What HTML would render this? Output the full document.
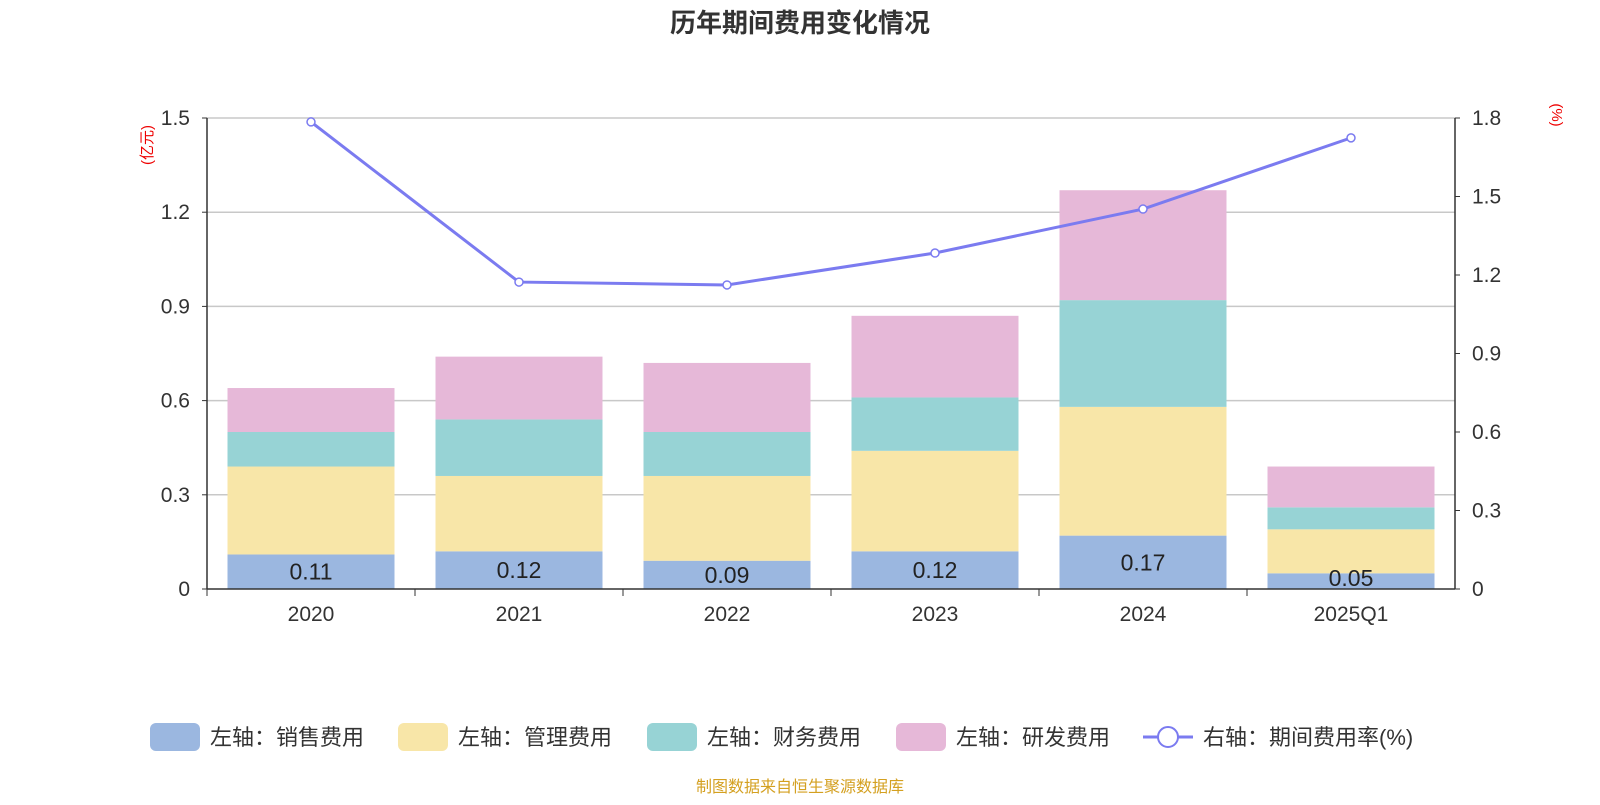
<!DOCTYPE html>
<html><head><meta charset="utf-8"><style>
body{margin:0;background:#fff;font-family:"Liberation Sans","Noto Sans CJK SC",sans-serif;}
svg text{font-family:"Liberation Sans","Noto Sans CJK SC",sans-serif;}
</style></head><body>
<svg id="chart" width="1600" height="800" xmlns="http://www.w3.org/2000/svg">
<text x="800" y="32" text-anchor="middle" font-size="26" font-weight="bold" fill="#333">历年期间费用变化情况</text>
<text transform="translate(152,145) rotate(-90)" text-anchor="middle" font-size="15" fill="#e00">(亿元)</text>
<text transform="translate(1552,115) rotate(90)" text-anchor="middle" font-size="15" fill="#e00">(%)</text>
<g id="grid"></g><g id="bars"></g><g id="axes"></g><g id="line"></g>
<g font-size="22" fill="#333">
<rect x="150" y="723" width="50" height="28" rx="6" fill="#9bb7e0"/><text x="210" y="745">左轴：销售费用</text>
<rect x="398" y="723" width="50" height="28" rx="6" fill="#f8e6a8"/><text x="458" y="745">左轴：管理费用</text>
<rect x="647" y="723" width="50" height="28" rx="6" fill="#97d3d5"/><text x="707" y="745">左轴：财务费用</text>
<rect x="896" y="723" width="50" height="28" rx="6" fill="#e6b8d8"/><text x="956" y="745">左轴：研发费用</text>
<g><line x1="1143" y1="737" x2="1193" y2="737" stroke="#7b7bf0" stroke-width="3"/><circle cx="1168" cy="737" r="10" fill="#fff" stroke="#7b7bf0" stroke-width="2"/><text x="1203" y="745">右轴：期间费用率(%)</text></g>
</g>
<text x="800" y="792" text-anchor="middle" font-size="16" fill="#d4a020">制图数据来自恒生聚源数据库</text>
</svg>
<script>
const categories=["2020","2021","2022","2023","2024","2025Q1"];
const sales=[0.11,0.12,0.09,0.12,0.17,0.05];
const admin=[0.28,0.24,0.27,0.32,0.41,0.14];
const finance=[0.11,0.18,0.14,0.17,0.34,0.07];
const rd=[0.14,0.20,0.22,0.26,0.35,0.13];
const rate=[1.785,1.173,1.162,1.284,1.452,1.724];
const leftTicks=[0,0.3,0.6,0.9,1.2,1.5];
const rightTicks=[0,0.3,0.6,0.9,1.2,1.5,1.8];
const NS="http://www.w3.org/2000/svg";
const x0=207,x1=1455,yB=589,yT=118;
const band=(x1-x0)/categories.length;
const yL=v=>yB-(v/1.5)*(yB-yT);
const yR=v=>yB-(v/1.8)*(yB-yT);
const xC=i=>x0+band*(i+0.5);
function mk(p,tag,a){const e=document.createElementNS(NS,tag);for(const k in a)e.setAttribute(k,a[k]);document.getElementById(p).appendChild(e);return e;}
leftTicks.forEach((t,i)=>{
  if(i>0){const g=mk("grid","line",{x1:x0,x2:x1,y1:yL(t),y2:yL(t),stroke:"#c8c8c8","stroke-width":1.5});
  
  }
  const tx=mk("axes","text",{x:190,y:yL(t)+7,"text-anchor":"end","font-size":21,fill:"#333"});tx.textContent=t===0?"0":t.toFixed(1);
  
  
  mk("axes","line",{x1:x0-5,x2:x0,y1:yL(t),y2:yL(t),stroke:"#333"});
});
rightTicks.forEach(t=>{
  const tx=mk("axes","text",{x:1472,y:yR(t)+7,"font-size":21,fill:"#333"});tx.textContent=t===0?"0":t.toFixed(1);
  
  
  mk("axes","line",{x1:x1,x2:x1+5,y1:yR(t),y2:yR(t),stroke:"#333"});
});
mk("axes","line",{x1:x0,x2:x0,y1:yT,y2:yB,stroke:"#333","stroke-width":1.5});
mk("axes","line",{x1:x1,x2:x1,y1:yT,y2:yB,stroke:"#333","stroke-width":1.5});
mk("axes","line",{x1:x0,x2:x1,y1:yB,y2:yB,stroke:"#333","stroke-width":1.5});
const series=[[sales,"#9bb7e0","bar-sales"],[admin,"#f8e6a8","bar-admin"],[finance,"#97d3d5","bar-finance"],[rd,"#e6b8d8","bar-rd"]];
const bw=167;
categories.forEach((c,i)=>{
  mk("axes","line",{x1:x0+band*i,x2:x0+band*i,y1:yB,y2:yB+7,stroke:"#333"});
  const tx=mk("axes","text",{x:xC(i),y:621,"text-anchor":"middle","font-size":21,fill:"#333"});tx.textContent=c;
  
  
  let acc=0;
  series.forEach(([arr,col,nm])=>{
    const r=mk("bars","rect",{x:xC(i)-bw/2,y:yL(acc+arr[i]),width:bw,height:yL(acc)-yL(acc+arr[i]),fill:col});
    
    
    acc+=arr[i];
  });
  const lb=mk("bars","text",{x:xC(i),y:Math.min(yL(sales[i]/2)+8,yB-3),"text-anchor":"middle","font-size":23,fill:"#222"});lb.textContent=sales[i].toFixed(2);
  
  
});
const pl=mk("line","polyline",{points:rate.map((v,i)=>xC(i)+","+yR(v)).join(" "),fill:"none",stroke:"#7b7bf0","stroke-width":3});


rate.forEach((v,i)=>{const c=mk("line","circle",{cx:xC(i),cy:yR(v),r:4,fill:"#fff",stroke:"#7b7bf0","stroke-width":1.5});

});
</script>
</body></html>
